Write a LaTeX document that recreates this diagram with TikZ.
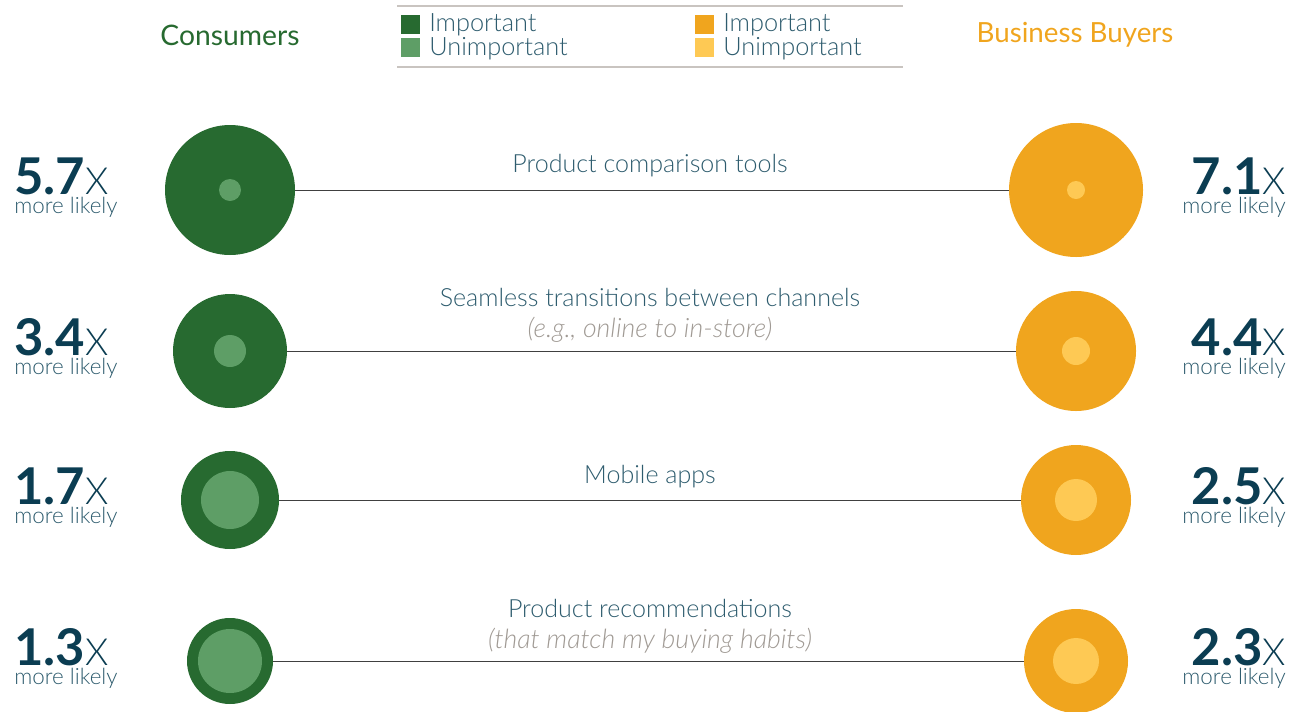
\documentclass[tikz,border=0pt]{standalone}
\usepackage{fontspec}
\setmainfont{Lato}
\newfontfamily\lightfont{Lato Light}
\usetikzlibrary{positioning}
\definecolor{impgreen}{HTML}{276A30}
\definecolor{unimpgreen}{HTML}{5E9E66}
\definecolor{imporange}{HTML}{F0A51E}
\definecolor{unimporange}{HTML}{FEC954}
\definecolor{numtext}{HTML}{0B3D52}
\definecolor{labeltext}{HTML}{2E5C6E}
\definecolor{notetext}{HTML}{A09A94}
\definecolor{rulegray}{HTML}{C9C4C0}
\tikzset{
  bubble/.style={circle,inner sep=0pt,minimum size={1.5pt*#1}},
  label text/.style={text=labeltext,font=\lightfont\fontsize{18.8}{22}\selectfont,anchor=base},
  note text/.style={text=notetext,font=\lightfont\itshape\fontsize{20}{22}\selectfont,anchor=base},
  big num/.style={text=numtext,inner sep=0pt,text depth=0pt,font=\fontsize{38}{40}\selectfont},
  likely/.style={text=labeltext,inner sep=0pt,text height=11pt,font=\lightfont\fontsize{16.8}{18}\selectfont},
  legend key/.style={inner sep=0pt,minimum size=14.25pt},
  legend text/.style={text=labeltext,inner sep=0pt,anchor=base west,font=\lightfont\fontsize{19}{20}\selectfont},
}
\begin{document}
\begin{tikzpicture}[x=0.75pt,y=-0.75pt]
  \useasboundingbox (0,0) rectangle (1306,711);

  % Headers
  \node[text=impgreen,font=\fontsize{21.2}{24}\selectfont] (consumers) at (230,35) {Consumers};
  \node[text=imporange,font=\fontsize{20.8}{24}\selectfont] (buyers) at (1075,35) {Business Buyers};

  % Legend
  \draw[rulegray,line width=1.5pt] (397,6) -- (903,6);
  \draw[rulegray,line width=1.5pt] (397,67) -- (903,67);
  \node[legend key,fill=impgreen] (kg1) at (410.5,24) {};
  \node[legend key,fill=unimpgreen] (kg2) at (410.5,47) {};
  \node[legend key,fill=imporange] (ko1) at (704,24) {};
  \node[legend key,fill=unimporange] (ko2) at (704,47) {};
  \node[legend text] (tg1) at (429,31) {Important};
  \node[legend text] (tg2) at (429,55) {Unimportant};
  \node[legend text] (to1) at (723,31) {Important};
  \node[legend text] (to2) at (723,55) {Unimportant};

  % Rows: bubbles, connector, figures
  \foreach \y/\rl/\il/\rr/\ir/\nl/\nr [count=\i] in
      {190/65/11/67/9/5.7/7.1, 351/57/16/60/14/3.4/4.4,
       500/49/29/55/21/1.7/2.5, 661/43/32/52/23/1.3/2.3} {
    \node[bubble=\rl,fill=impgreen] (cl\i) at (230,\y) {};
    \node[bubble=\rr,fill=imporange] (cr\i) at (1076,\y) {};
    \fill[unimpgreen] (cl\i.center) circle[radius=\il];
    \fill[unimporange] (cr\i.center) circle[radius=\ir];
    \draw[black!75,line width=0.6pt] (cl\i) -- (cr\i);
    \node[big num,anchor=base west] (nl\i) at (14,\y+4) {\textbf{\nl}{\lightfont\fontsize{28}{30}\selectfont X}};
    \node[likely,anchor=base west] (ml\i) at (14,\y+23) {more likely};
    \node[big num,anchor=base east] (nr\i) at (1286,\y+4) {\textbf{\nr}{\lightfont\fontsize{28}{30}\selectfont X}};
    \node[likely,anchor=base east] (mr\i) at (1286,\y+23) {more likely};
  }

  % Row labels
  \node[label text] (lab1) at (650,172) {Product comparison tools};
  \node[label text] (lab2) at (650,306) {Seamless transitions between channels};
  \node[note text] (note2) at (650,337) {(e.g., online to in-store)};
  \node[label text] (lab3) at (650,483) {Mobile apps};
  \node[label text] (lab4) at (650,617) {Product recommendations};
  \node[note text] (note4) at (650,648) {(that match my buying habits)};
\end{tikzpicture}
\end{document}
